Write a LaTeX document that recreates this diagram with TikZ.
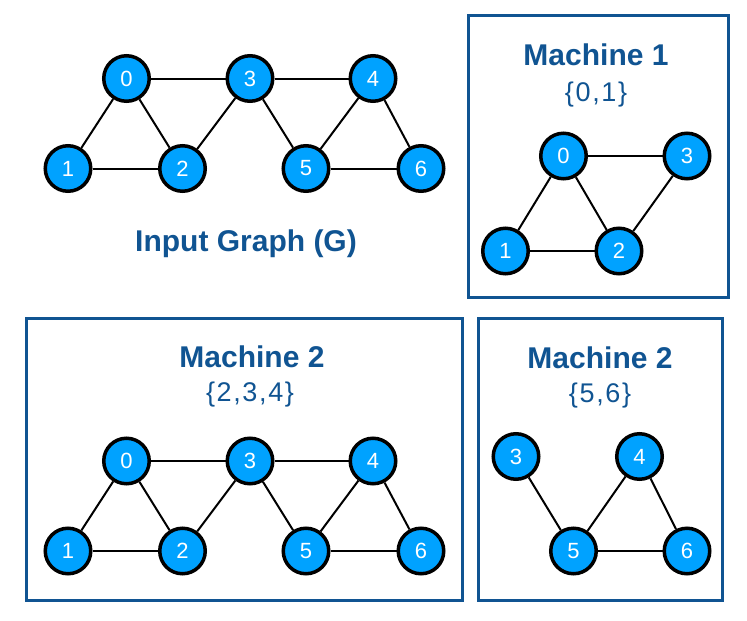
\documentclass[tikz,border=0pt]{standalone}
\usepackage{fontspec}
\setmainfont{Liberation Sans}
\usetikzlibrary{calc}
\definecolor{vertexblue}{RGB}{0,162,255}
\definecolor{boxblue}{RGB}{16,84,146}

\begin{document}
\begin{tikzpicture}[
      x=1pt, y=-1pt,
      vertex/.style={circle,draw=black,line width=3.5pt,fill=vertexblue,text=white,
        minimum size=45.5pt,inner sep=0pt,font=\fontsize{22}{22}\selectfont},
      edge/.style={line width=2pt},
      machine/.style={draw=boxblue,line width=3pt},
      title/.style={anchor=base,text=boxblue,font=\fontsize{30}{30}\selectfont\bfseries},
      part/.style={anchor=base,text=boxblue,
        font=\fontsize{27}{27}\selectfont\addfontfeature{LetterSpace=6}},
    ]
    \useasboundingbox (0,0) rectangle (747,621);
    % Draw the machine boxes.
    \draw[machine] (468,15.5) rectangle (728,297);
    \draw[machine] (26.5,318.5) rectangle (462.5,600);
    \draw[machine] (478,318.5) rectangle (722.5,600);

    % Input graph.
    \node[vertex] (G_0) at (126.5,78.5) {0};
    \node[vertex] (G_3) at (250,78.5) {3};
    \node[vertex] (G_4) at (373,78.5) {4};
    \node[vertex] (G_1) at (68,168.5) {1};
    \node[vertex] (G_2) at (182.5,168.5) {2};
    \node[vertex] (G_5) at (306,168.5) {5};
    \node[vertex] (G_6) at (421,168.5) {6};
    \draw[edge] (G_0) -- (G_3) -- (G_4);
    \draw[edge] (G_1) -- (G_2);
    \draw[edge] (G_5) -- (G_6);
    \draw[edge] (G_0) -- (G_1);
    \draw[edge] (G_0) -- (G_2);
    \draw[edge] (G_2) -- (G_3);
    \draw[edge] (G_3) -- (G_5);
    \draw[edge] (G_4) -- (G_5);
    \draw[edge] (G_4) -- (G_6);
    \node[title] (G_title) at (246,251.5) {Input Graph (G)};

    % Machine 1.
    \node[title] (M1_title) at (596,65) {Machine 1};
    \node[part] (M1_part) at (596,101.5) {\{0,1\}};
    \node[vertex] (M1_0) at (563.5,156) {0};
    \node[vertex] (M1_3) at (687,156) {3};
    \node[vertex] (M1_1) at (505.5,251) {1};
    \node[vertex] (M1_2) at (619,251) {2};
    \draw[edge] (M1_0) -- (M1_3);
    \draw[edge] (M1_1) -- (M1_2);
    \draw[edge] (M1_0) -- (M1_1);
    \draw[edge] (M1_0) -- (M1_2);
    \draw[edge] (M1_2) -- (M1_3);

    % Machine 2, first part.
    \coordinate (M2_s) at (0,382.5);
    \node[title] (M2_title) at (252,367) {Machine 2};
    \node[part] (M2_part) at (250,401.5) {\{2,3,4\}};
    \node[vertex] (M2_0) at ($(M2_s)+(126.5,78.5)$) {0};
    \node[vertex] (M2_3) at ($(M2_s)+(250,78.5)$) {3};
    \node[vertex] (M2_4) at ($(M2_s)+(373,78.5)$) {4};
    \node[vertex] (M2_1) at ($(M2_s)+(68,168.5)$) {1};
    \node[vertex] (M2_2) at ($(M2_s)+(182.5,168.5)$) {2};
    \node[vertex] (M2_5) at ($(M2_s)+(306,168.5)$) {5};
    \node[vertex] (M2_6) at ($(M2_s)+(421,168.5)$) {6};
    \draw[edge] (M2_0) -- (M2_3) -- (M2_4);
    \draw[edge] (M2_1) -- (M2_2);
    \draw[edge] (M2_5) -- (M2_6);
    \draw[edge] (M2_0) -- (M2_1);
    \draw[edge] (M2_0) -- (M2_2);
    \draw[edge] (M2_2) -- (M2_3);
    \draw[edge] (M2_3) -- (M2_5);
    \draw[edge] (M2_4) -- (M2_5);
    \draw[edge] (M2_4) -- (M2_6);

    % Machine 2, second part.
    \node[title] (M3_title) at (600,368) {Machine 2};
    \node[part] (M3_part) at (600,402) {\{5,6\}};
    \node[vertex] (M3_3) at (516,456.5) {3};
    \node[vertex] (M3_4) at (639.5,456.5) {4};
    \node[vertex] (M3_5) at (573.5,551) {5};
    \node[vertex] (M3_6) at (687,551) {6};
    \draw[edge] (M3_3) -- (M3_5);
    \draw[edge] (M3_4) -- (M3_5);
    \draw[edge] (M3_4) -- (M3_6);
    \draw[edge] (M3_5) -- (M3_6);
\end{tikzpicture}
\end{document}
